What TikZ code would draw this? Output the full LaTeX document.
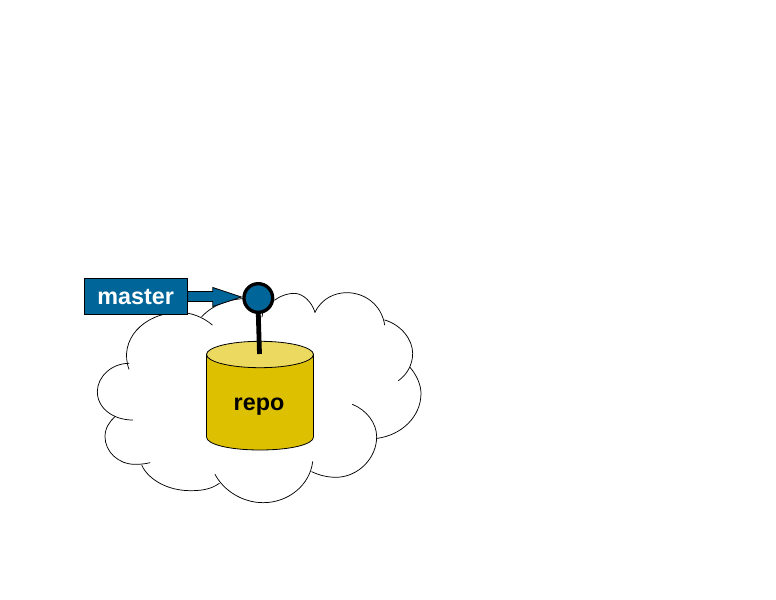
\documentclass[tikz,border=0pt]{standalone}
\usepackage{fontspec}
\setmainfont{Liberation Sans}
\usepackage{xcolor}
\usetikzlibrary{calc}
\definecolor{tipblue}{HTML}{006699}
\definecolor{repogold}{HTML}{DDC000}
\definecolor{repotop}{HTML}{ECD95F}
\tikzset{
    cloudline/.style = {black, line width = 0.55pt, line cap = round},
    labeltext/.style = {font = \fontsize{17.5pt}{20pt}\selectfont\bfseries},
    repoline/.style = {draw = black, line width = 0.6pt},
}

\begin{document}
\begin{tikzpicture}[x = 0.75pt, y = -0.75pt]
    \useasboundingbox (0, 0) rectangle (776, 600);

    % cloud, one line per lobe
    \begin{scope}[shift = {(90, 280)}, x = 0.25pt, y = -0.25pt]
    \draw[cloudline] (117,268) .. controls (85,180) and (160,100) .. (265,97) .. controls (305,97) and (340,112) .. (367,135);
    \draw[cloudline] (335,110) .. controls (375,68) and (430,55) .. (480,55) -- (555,60) .. controls (575,45) and (595,40) .. (615,40) .. controls (640,42) and (665,65) .. (675,97);
    \draw[cloudline] (675,97) .. controls (695,55) and (735,38) .. (770,38) .. controls (825,38) and (875,75) .. (884,135);
    \draw[cloudline] (884,120) .. controls (935,135) and (968,180) .. (968,220) .. controls (968,255) and (950,285) .. (925,302);
    \draw[cloudline] (960,262) .. controls (980,285) and (993,315) .. (993,340) .. controls (993,410) and (935,465) .. (862,475);
    \draw[cloudline] (787,373) .. controls (830,390) and (860,430) .. (860,470) .. controls (860,535) and (805,590) .. (740,592) .. controls (715,592) and (690,587) .. (665,575);
    \draw[cloudline] (668,545) .. controls (660,615) and (595,668) .. (520,668) .. controls (455,668) and (400,630) .. (375,583);
    \draw[cloudline] (388,610) .. controls (360,630) and (330,632) .. (300,632) .. controls (235,632) and (175,600) .. (155,555);
    \draw[cloudline] (180,548) .. controls (165,552) and (150,553) .. (135,553) .. controls (85,553) and (45,515) .. (45,470) .. controls (45,445) and (58,425) .. (75,410);
    \draw[cloudline] (128,420) .. controls (70,420) and (22,385) .. (22,335) .. controls (22,290) and (65,250) .. (117,250);
    \draw[cloudline] (519,95) -- (516,111);
    \end{scope}

    % cylinder
    \filldraw[repoline, fill = repogold] (206.5, 354) -- (206.5, 437)
    .. controls (206.5, 444.5) and (230, 450) .. (260, 450)
    .. controls (290, 450) and (313.5, 444.5) .. (313.5, 437) -- (313.5, 354) -- cycle;
    \filldraw[repoline, fill = repotop] (260, 354.5) ellipse [x radius = 40.1pt, y radius = 9.9pt];
    \node [labeltext] (repo) at (259, 407) {repo};

    \node [draw = black, fill = tipblue, text = white, line width = 0.6pt, labeltext,
        minimum width = 77.5pt, minimum height = 27.5pt, inner sep = 0pt] (master) at (135.7, 296.5) {master};

    \node [circle, draw = black, fill = tipblue, line width = 2.5pt,
        minimum size = 21.5pt, inner sep = 0pt] (pin) at (258.3, 298) {};

    \coordinate (stickend) at (259.5, 354);
    \draw [black, line width = 3.6pt] (pin.south) -- (stickend);

    \filldraw [draw = black, fill = tipblue, line width = 0.6pt, line join = miter]
    ($(master.east) + (0, -5)$) -- ++(25, 0) -- ++(0, -4) -- ($(pin.west) + (-1, -1)$)
    -- ($(master.east) + (25, 10)$) -- ++(0, -5) -- ($(master.east) + (0, 5)$) -- cycle;
\end{tikzpicture}
\end{document}
